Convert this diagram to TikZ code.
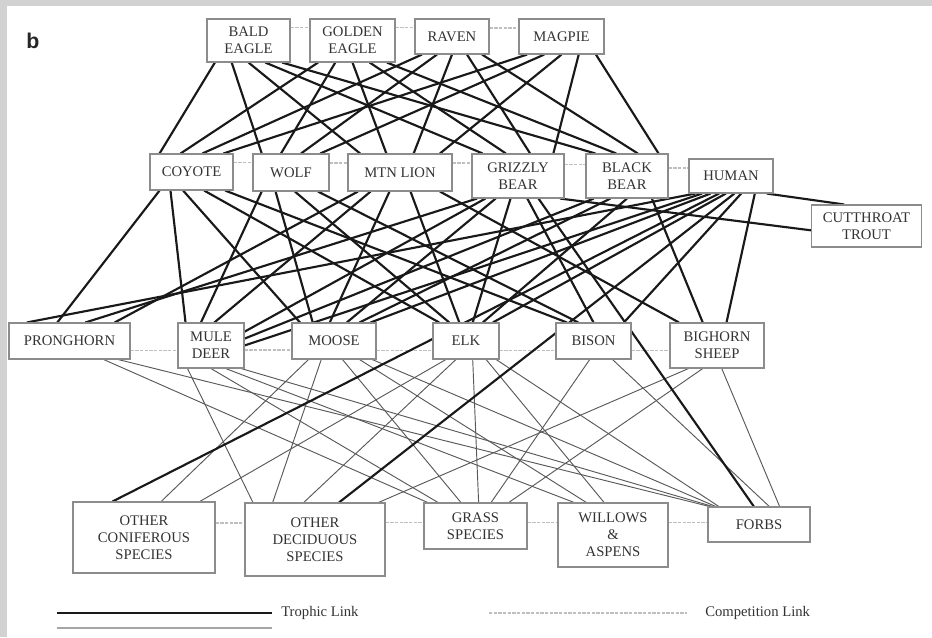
\documentclass[tikz,border=0pt]{standalone}
\usepackage{fontspec}
\setmainfont{Liberation Serif}
\newfontfamily\labelsans{Liberation Sans}
\usetikzlibrary{calc}
\pgfdeclarelayer{back}
\pgfdeclarelayer{edges}
\pgfsetlayers{back,edges,main}
\newcommand*\lnk[4]{\draw ($(#1.south west)!#2!(#1.south east)$) -- ($(#3.north west)!#4!(#3.north east)$);}
\newcommand*\cmp[3]{\draw[complink] ($(#1.north east)!#3!(#1.south east)$) coordinate (cmptmp) -- (cmptmp -| #2.west);}
\newcommand*\bx[6]{\node[box,minimum width=#4*0.75pt,minimum height=#5*0.75pt] (#1) at (#2,#3) {#6};}
\begin{document}
\begin{tikzpicture}[x=0.75pt,y=-0.75pt,
  box/.style={draw=black!45,line width=0.8pt,fill=white,align=center,inner sep=1pt,
    text=black!80,font=\fontsize{11}{12.75}\selectfont},
  trophlink/.style={draw=black!90,line width=1.6pt},
  weaklink/.style={draw=black!65,line width=0.7pt},
  complink/.style={draw=black!25,line width=1pt,dash pattern=on 2.5pt off 1pt},
  legtext/.style={text=black!80,font=\fontsize{11}{12.75}\selectfont,inner sep=0pt}]
\useasboundingbox (0,0) rectangle (932,637);
\begin{pgfonlayer}{back}
  \fill[white] (0,0) rectangle (932,637);
  \fill[gray!35] (0,0) rectangle (7,637);
  \fill[gray!35] (0,0) rectangle (932,6);
\end{pgfonlayer}

\node[font=\labelsans\bfseries\fontsize{16}{16}\selectfont,text=black!85] (panel) at (33,41) {b};

% row 1
\bx{bald}{248.5}{40.5}{83}{43}{BALD\\EAGLE}
\bx{golden}{352.5}{40.5}{85}{43}{GOLDEN\\EAGLE}
\bx{raven}{452}{36.5}{74}{35}{RAVEN}
\bx{magpie}{561.5}{36.5}{85}{35}{MAGPIE}
% row 2
\bx{coyote}{191.5}{172}{83}{36}{COYOTE}
\bx{wolf}{291}{172.5}{76}{37}{WOLF}
\bx{lion}{400}{172.5}{104}{37}{MTN LION}
\bx{grizzly}{518}{176}{92}{44}{GRIZZLY\\BEAR}
\bx{black}{627}{176}{82}{44}{BLACK\\BEAR}
\bx{human}{731}{176}{84}{34}{HUMAN}
\bx{trout}{866.5}{226}{110}{42}{CUTTHROAT\\TROUT}
% row 3
\bx{pron}{69.5}{341}{121}{36}{PRONGHORN}
\bx{mule}{211}{345.5}{66}{45}{MULE\\DEER}
\bx{moose}{334}{341}{84}{36}{MOOSE}
\bx{elk}{466}{341}{66}{36}{ELK}
\bx{bison}{593.5}{341}{75}{36}{BISON}
\bx{bighorn}{717}{345.5}{94}{45}{BIGHORN\\SHEEP}
% row 4
\bx{conif}{144}{537.5}{142}{71}{OTHER\\CONIFEROUS\\SPECIES}
\bx{decid}{315}{539.5}{140}{73}{OTHER\\DECIDUOUS\\SPECIES}
\bx{grass}{475.5}{526}{103}{46}{GRASS\\SPECIES}
\bx{willow}{613}{535}{110}{64}{WILLOWS\\\&\\ASPENS}
\bx{forbs}{759}{524.5}{102}{35}{FORBS}

% legend
\coordinate (tA) at (57,613); \coordinate (tB) at (272,613);
\coordinate (wA) at (57,628); \coordinate (wB) at (272,628);
\coordinate (cA) at (489,613); \coordinate (cB) at (687,613);
\node[legtext,anchor=west] (tlab) at (281,613) {Trophic Link};
\node[legtext,anchor=west] (clab) at (705,613) {Competition Link};
\draw[trophlink,line width=2.2pt] (tA) -- (tB);
\draw[draw=black!35,line width=1.2pt] (wA) -- (wB);
\draw[complink] (cA) -- (cB);

\begin{pgfonlayer}{edges}
% competition links
\cmp{bald}{golden}{0.21} \cmp{golden}{raven}{0.21} \cmp{raven}{magpie}{0.26}
\cmp{coyote}{wolf}{0.25} \cmp{wolf}{lion}{0.25} \cmp{lion}{grizzly}{0.25}
\cmp{grizzly}{black}{0.25} \cmp{black}{human}{0.32}
\cmp{pron}{mule}{0.75} \cmp{mule}{moose}{0.6} \cmp{moose}{elk}{0.75}
\cmp{elk}{bison}{0.75} \cmp{bison}{bighorn}{0.75}
\cmp{conif}{decid}{0.3} \cmp{decid}{grass}{0.27} \cmp{grass}{willow}{0.43}
\cmp{willow}{forbs}{0.31}

% plant links (thin)
\begin{scope}[weaklink]
\lnk{pron}{0.78}{grass}{0.04}
\lnk{pron}{0.9}{forbs}{0.02}
\lnk{mule}{0.15}{decid}{0.06}
\lnk{mule}{0.5}{grass}{0.14}
\lnk{mule}{0.72}{willow}{0.15}
\lnk{mule}{0.95}{forbs}{0.05}
\lnk{moose}{0.2}{conif}{0.62}
\lnk{moose}{0.35}{decid}{0.2}
\lnk{moose}{0.6}{grass}{0.36}
\lnk{moose}{0.8}{willow}{0.26}
\lnk{moose}{0.95}{forbs}{0.08}
\lnk{elk}{0.2}{conif}{0.89}
\lnk{elk}{0.35}{decid}{0.42}
\lnk{elk}{0.6}{grass}{0.53}
\lnk{elk}{0.8}{willow}{0.42}
\lnk{elk}{0.95}{forbs}{0.11}
\lnk{bison}{0.45}{grass}{0.65}
\lnk{bison}{0.75}{forbs}{0.6}
\lnk{bighorn}{0.2}{decid}{0.95}
\lnk{bighorn}{0.35}{grass}{0.82}
\lnk{bighorn}{0.55}{forbs}{0.7}
\end{scope}

\begin{scope}[trophlink]
% scavengers -> predators
\foreach \sa/\fs in {bald/0.12,golden/0.37,raven/0.63,magpie/0.88}
  \foreach \ta/\ft in {coyote/0.1,wolf/0.3,lion/0.5,grizzly/0.7,black/0.9}
    \draw ($(\sa.south west)!\ft!(\sa.south east)$) -- ($(\ta.north west)!\fs!(\ta.north east)$);
% predators -> prey
\lnk{coyote}{0.12}{pron}{0.4}
\lnk{coyote}{0.25}{mule}{0.12}
\lnk{coyote}{0.4}{moose}{0.1}
\lnk{coyote}{0.65}{elk}{0.1}
\lnk{coyote}{0.9}{bison}{0.15}
\lnk{wolf}{0.12}{mule}{0.35}
\lnk{wolf}{0.3}{moose}{0.25}
\lnk{wolf}{0.55}{elk}{0.25}
\lnk{wolf}{0.85}{bison}{0.3}
\lnk{lion}{0.1}{pron}{0.87}
\lnk{lion}{0.22}{mule}{0.55}
\lnk{lion}{0.4}{moose}{0.45}
\lnk{lion}{0.6}{elk}{0.4}
\lnk{lion}{0.88}{bighorn}{0.1}
\lnk{grizzly}{0.06}{pron}{0.63}
\draw ($(grizzly.south west)!0.15!(grizzly.south east)$) -- ($(mule.north east)!0.2!(mule.south east)$);
\lnk{grizzly}{0.26}{moose}{0.65}
\lnk{grizzly}{0.42}{elk}{0.6}
\lnk{grizzly}{0.6}{bison}{0.5}
\lnk{grizzly}{0.72}{forbs}{0.45}
\draw ($(grizzly.south west)!0.95!(grizzly.south east)$) -- ($(trout.north west)!0.6!(trout.south west)$);
\draw ($(black.south west)!0.1!(black.south east)$) -- ($(mule.north east)!0.35!(mule.south east)$);
\lnk{black}{0.3}{moose}{0.8}
\lnk{black}{0.5}{elk}{0.75}
\lnk{black}{0.8}{bighorn}{0.35}
\lnk{human}{0.08}{pron}{0.15}
\draw ($(human.south west)!0.16!(human.south east)$) -- ($(mule.north east)!0.5!(mule.south east)$);
\lnk{human}{0.26}{moose}{0.93}
\lnk{human}{0.36}{conif}{0.28}
\lnk{human}{0.44}{elk}{0.9}
\lnk{human}{0.54}{decid}{0.67}
\lnk{human}{0.62}{bison}{0.9}
\lnk{human}{0.78}{bighorn}{0.6}
\lnk{human}{0.92}{trout}{0.3}
\end{scope}
\end{pgfonlayer}
\end{tikzpicture}
\end{document}
